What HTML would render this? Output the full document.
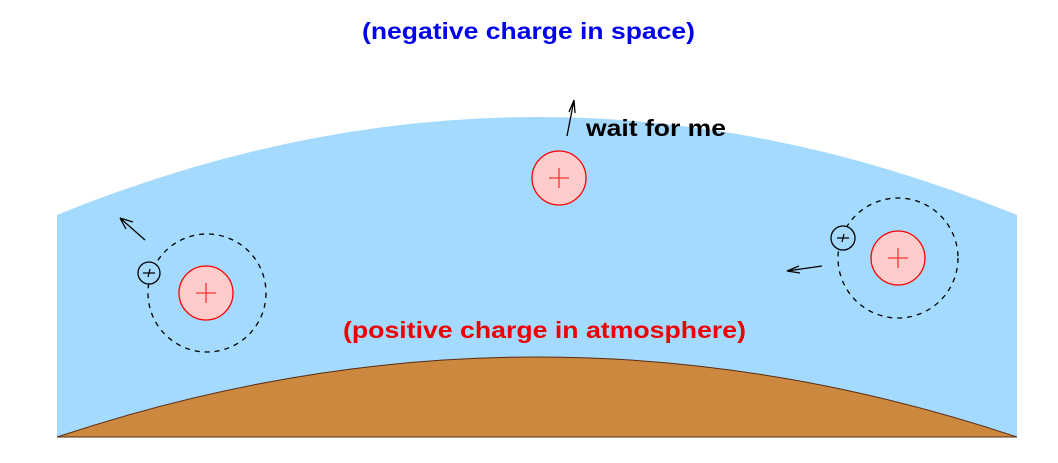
<!DOCTYPE html>
<html><head><meta charset="utf-8"><style>
html,body{margin:0;padding:0;background:#fff;width:1058px;height:463px;overflow:hidden}
svg{display:block}
text{font-family:"Liberation Sans",sans-serif;font-weight:bold}
</style></head><body>
<svg width="1058" height="463" viewBox="0 0 1058 463">
<path d="M57,215 Q537,19 1017,215 L1017,437 L57,437 Z" fill="#a5daff"/>
<path d="M57,437 Q537,277 1017,437 Z" fill="#cd883f" stroke="#5a2a10" stroke-width="1"/>
<g stroke="#000" fill="none" stroke-width="1.3">
<circle cx="207" cy="293" r="59" stroke-dasharray="5,5"/>
<circle cx="898" cy="258" r="60" stroke-dasharray="5,5"/>
<circle cx="149" cy="273" r="11" fill="#a5daff"/>
<circle cx="843" cy="238" r="12" fill="#a5daff"/>
<path d="M143,273 L155,273 M150,269 L148,277"/>
<path d="M837,238 L849,238 M844,234 L842,242"/>
<path d="M145,240 L120,218 M120,218 L133,222 M120,218 L126,229"/>
<path d="M822,266 L787,271 M787,271 L799,266 M787,271 L800,273"/>
<path d="M567,136 L574,100 M574,100 L569,112 M574,100 L575,113"/>
</g>
<g stroke="#f00" stroke-width="1.3">
<circle cx="206" cy="293" r="27" fill="#ffcccc"/>
<circle cx="898" cy="258" r="27" fill="#ffcccc"/>
<circle cx="559" cy="178" r="27" fill="#ffcccc"/>
<path d="M196,293 L216,293 M206,283 L206,303 M888,258 L908,258 M898,248 L898,268 M549,178 L569,178 M559,168 L559,188" stroke="#f33"/>
</g>
<text x="362" y="39" fill="#0000ee" font-size="23" textLength="333" lengthAdjust="spacingAndGlyphs">(negative charge in space)</text>
<text x="586" y="136" fill="#000" font-size="23" textLength="140" lengthAdjust="spacingAndGlyphs">wait for me</text>
<text x="343" y="338" fill="#ee0000" font-size="23" textLength="403" lengthAdjust="spacingAndGlyphs">(positive charge in atmosphere)</text>
</svg>
</body></html>
